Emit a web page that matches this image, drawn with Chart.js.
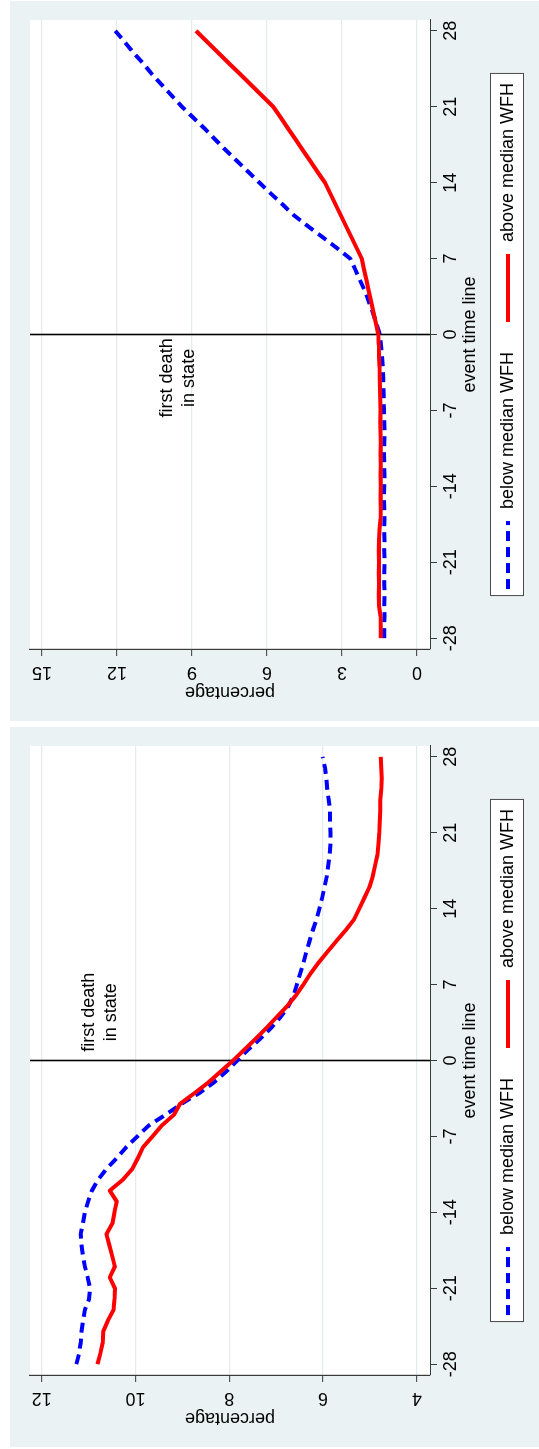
<!DOCTYPE html>
<html>
<head>
<meta charset="utf-8">
<script src="https://cdn.jsdelivr.net/npm/chart.js@4.4.1/dist/chart.umd.min.js"></script>
<style>
  html, body { margin: 0; padding: 0; background: #ffffff; }
  body { width: 539px; height: 1449px; position: relative; overflow: hidden; }
  .panel { position: absolute; left: 10px; width: 529px; height: 720px; overflow: hidden; }
  /* each chart is laid out landscape and turned a quarter turn counter-clockwise */
  .panel .turn { position: absolute; left: 0; top: 0; width: 720px; height: 529px;
                 transform-origin: 0 0; transform: translate(0, 720px) rotate(-90deg); }
  canvas { display: block; }
</style>
</head>
<body>
<div class="panel" style="top:1px"><div class="turn"><canvas id="chartTop" width="720" height="529"></canvas></div></div>
<div class="panel" style="top:727px"><div class="turn"><canvas id="chartBottom" width="720" height="529"></canvas></div></div>
<script>
// event time (days relative to first death in state)
const days = [-28, -27, -26, -25, -24, -23, -22, -21, -20, -19, -18, -17, -16, -15, -14, -13, -12, -11, -10,
  -9, -8, -7, -6, -5, -4, -3, -2, -1, 0, 1, 2, 3, 4, 5, 6, 7, 8, 9, 10, 11, 12, 13, 14, 15, 16, 17, 18, 19,
  20, 21, 22, 23, 24, 25, 26, 27, 28];

// upper panel, percentage
const topAbove = [1.45, 1.45, 1.46, 1.52, 1.53, 1.52, 1.53, 1.52, 1.53, 1.52, 1.50, 1.46, 1.45, 1.46, 1.45,
  1.46, 1.45, 1.46, 1.45, 1.46, 1.47, 1.46, 1.47, 1.48, 1.49, 1.50, 1.52, 1.53, 1.55, 1.64, 1.74, 1.83,
  1.93, 2.02, 2.12, 2.21, 2.42, 2.63, 2.84, 3.05, 3.26, 3.47, 3.68, 3.98, 4.27, 4.57, 4.86, 5.16, 5.45,
  5.75, 6.19, 6.63, 7.07, 7.52, 7.96, 8.40, 8.84];
const topBelow = [1.31, 1.31, 1.30, 1.31, 1.30, 1.31, 1.31, 1.30, 1.31, 1.30, 1.31, 1.30, 1.31, 1.32, 1.31,
  1.30, 1.31, 1.32, 1.31, 1.30, 1.31, 1.32, 1.33, 1.34, 1.35, 1.37, 1.40, 1.44, 1.49, 1.62, 1.76, 1.92,
  2.08, 2.28, 2.47, 2.67, 3.22, 3.79, 4.37, 4.93, 5.38, 5.85, 6.30, 6.75, 7.20, 7.65, 8.08, 8.50, 8.95,
  9.40, 9.80, 10.20, 10.60, 10.95, 11.35, 11.70, 12.07];

// lower panel, percentage
const bottomAbove = [10.81, 10.75, 10.70, 10.69, 10.59, 10.47, 10.45, 10.44, 10.55, 10.44, 10.50, 10.56,
  10.62, 10.49, 10.45, 10.40, 10.55, 10.27, 10.07, 9.95, 9.84, 9.64, 9.44, 9.18, 9.05, 8.74, 8.44, 8.18,
  7.92, 7.68, 7.44, 7.21, 6.99, 6.77, 6.58, 6.42, 6.27, 6.10, 5.91, 5.72, 5.52, 5.34, 5.23, 5.12, 5.01,
  4.94, 4.89, 4.84, 4.82, 4.80, 4.79, 4.78, 4.78, 4.76, 4.75, 4.76, 4.77];
const bottomBelow = [11.26, 11.20, 11.17, 11.15, 11.12, 11.08, 10.99, 10.97, 11.02, 11.08, 11.12, 11.15,
  11.17, 11.12, 11.08, 11.01, 10.93, 10.80, 10.62, 10.40, 10.20, 9.96, 9.72, 9.36, 9.02, 8.64, 8.32, 8.06,
  7.83, 7.60, 7.34, 7.11, 6.91, 6.74, 6.63, 6.56, 6.49, 6.42, 6.36, 6.29, 6.22, 6.14, 6.08, 6.02, 5.97,
  5.92, 5.89, 5.86, 5.84, 5.84, 5.85, 5.85, 5.88, 5.91, 5.93, 5.96, 6.01];

const xTicks = [-28, -21, -14, -7, 0, 7, 14, 21, 28];
const topYTicks = [0, 3, 6, 9, 12, 15];
const bottomYTicks = [4, 6, 8, 10, 12];

const seriesBelow = 'below median WFH';
const seriesAbove = 'above median WFH';
const xTitle = 'event time line';
const yTitle = 'percentage';
const noteLines = ['first death', 'in state'];

const FONT = '"Liberation Sans", Arial, Helvetica, sans-serif';
const FONT_SIZE = 18;
const PANEL_BG = '#eaf2f3';
const GRID = '#e2ebee';
const AXIS = '#3a3a3a';

const pair = (xs, ys) => xs.map((x, i) => ({ x, y: ys[i] }));

// panel background and white plot region
const panelFill = {
  id: 'panelFill',
  beforeDraw(chart) {
    const { ctx, chartArea: a, width, height } = chart;
    ctx.save();
    ctx.fillStyle = PANEL_BG;
    ctx.fillRect(0, 0, width, height);
    ctx.fillStyle = '#ffffff';
    ctx.fillRect(a.left, a.top, a.right - a.left, a.bottom - a.top);
    ctx.restore();
  }
};

// reference line at event time 0 with its note
const eventMarker = {
  id: 'eventMarker',
  beforeDatasetsDraw(chart, args, opts) {
    const { ctx, chartArea: a, scales: { x, y } } = chart;
    const px = x.getPixelForValue(opts.at);
    ctx.save();
    ctx.strokeStyle = '#000000';
    ctx.lineWidth = 1.6;
    ctx.beginPath();
    ctx.moveTo(px, a.top);
    ctx.lineTo(px, a.bottom);
    ctx.stroke();
    ctx.fillStyle = '#000000';
    ctx.font = `${FONT_SIZE}px ${FONT}`;
    ctx.textAlign = 'center';
    ctx.textBaseline = 'middle';
    const nx = x.getPixelForValue(opts.noteX);
    const ny = y.getPixelForValue(opts.noteY);
    opts.lines.forEach((t, i) => ctx.fillText(t, nx, ny + i * opts.lineGap));
    ctx.restore();
  }
};

// framed legend row under the axis title
const boxedLegend = {
  id: 'boxedLegend',
  afterDraw(chart, args, opts) {
    const { ctx, chartArea: a } = chart;
    const items = opts.order.map(i => chart.data.datasets[i]);
    ctx.save();
    ctx.font = `${FONT_SIZE}px ${FONT}`;
    const widths = items.map(d => ctx.measureText(d.label).width);
    let content = opts.itemGap * (items.length - 1);
    items.forEach((d, i) => { content += opts.sample + opts.gap + widths[i]; });
    const boxW = content + opts.padLeft + opts.padRight;
    const left = (a.left + a.right) / 2 - boxW / 2;
    ctx.fillStyle = '#ffffff';
    ctx.fillRect(left, opts.top, boxW, opts.height);
    ctx.strokeStyle = '#4a4a4a';
    ctx.lineWidth = 1;
    ctx.strokeRect(left + 0.5, opts.top + 0.5, boxW - 1, opts.height - 1);
    const cy = opts.top + opts.height / 2 + opts.shift;
    let xPos = left + opts.padLeft;
    items.forEach((d, i) => {
      ctx.strokeStyle = d.borderColor;
      ctx.lineWidth = d.borderWidth;
      ctx.setLineDash(d.borderDash || []);
      ctx.beginPath();
      ctx.moveTo(xPos, cy);
      ctx.lineTo(xPos + opts.sample, cy);
      ctx.stroke();
      ctx.setLineDash([]);
      xPos += opts.sample + opts.gap;
      ctx.fillStyle = '#000000';
      ctx.textAlign = 'left';
      ctx.textBaseline = 'middle';
      ctx.fillText(d.label, xPos, cy);
      xPos += widths[i] + opts.itemGap;
    });
    ctx.restore();
  }
};

function buildChart(id, above, below, yTicks, yMin, yMax, note) {
  return new Chart(document.getElementById(id), {
    type: 'line',
    data: {
      datasets: [
        { label: seriesAbove, data: pair(days, above), borderColor: '#ff0000', borderWidth: 4,
          pointRadius: 0, tension: 0, fill: false, borderJoinStyle: 'round' },
        { label: seriesBelow, data: pair(days, below), borderColor: '#0000ff', borderWidth: 4,
          borderDash: [10, 6], pointRadius: 0, tension: 0, fill: false }
      ]
    },
    options: {
      responsive: false,
      animation: false,
      devicePixelRatio: 1,
      layout: { padding: { top: 20, right: 19, bottom: 0, left: 0 } },
      plugins: {
        legend: { display: false },
        tooltip: { enabled: false },
        eventMarker: { at: 0, noteX: note.x, noteY: note.y, lines: noteLines, lineGap: 22 },
        boxedLegend: { order: [1, 0], top: 480, height: 34, sample: 68, gap: 12, itemGap: 30,
                       padLeft: 7, padRight: 10, shift: 1 }
      },
      scales: {
        x: {
          type: 'linear', position: 'bottom', min: -29, max: 29,
          afterBuildTicks: s => { s.ticks = xTicks.map(v => ({ value: v })); },
          afterFit: s => { s.height = 109; },
          grid: { drawOnChartArea: false, tickLength: 7, tickColor: AXIS, tickWidth: 1 },
          border: { color: AXIS, width: 1 },
          ticks: { font: { family: FONT, size: FONT_SIZE }, color: '#000000', padding: 3,
                   maxRotation: 0, autoSkip: false },
          title: { display: true, text: xTitle, font: { family: FONT, size: FONT_SIZE }, color: '#000000',
                   padding: { top: 0, bottom: 58 } }
        },
        y: {
          type: 'linear', position: 'left', min: yMin, max: yMax,
          afterBuildTicks: s => { s.ticks = yTicks.map(v => ({ value: v })); },
          afterFit: s => { s.width = 72; },
          grid: { color: GRID, lineWidth: 1.3, tickLength: 7, tickColor: AXIS, tickWidth: 1 },
          border: { color: AXIS, width: 1.2 },
          ticks: { font: { family: FONT, size: FONT_SIZE }, color: '#000000', minRotation: 90, maxRotation: 90,
                   crossAlign: 'center', padding: 6, autoSkip: false },
          title: { display: true, text: yTitle, font: { family: FONT, size: FONT_SIZE }, color: '#000000',
                   padding: { top: 18, bottom: 0 } }
        }
      }
    },
    plugins: [panelFill, eventMarker, boxedLegend]
  });
}

buildChart('chartTop', topAbove, topBelow, topYTicks, -0.52, 15.48, { x: -4.0, y: 10.0 });
buildChart('chartBottom', bottomAbove, bottomBelow, bottomYTicks, 3.72, 12.25, { x: 4.45, y: 11.0 });
</script>
</body>
</html>
